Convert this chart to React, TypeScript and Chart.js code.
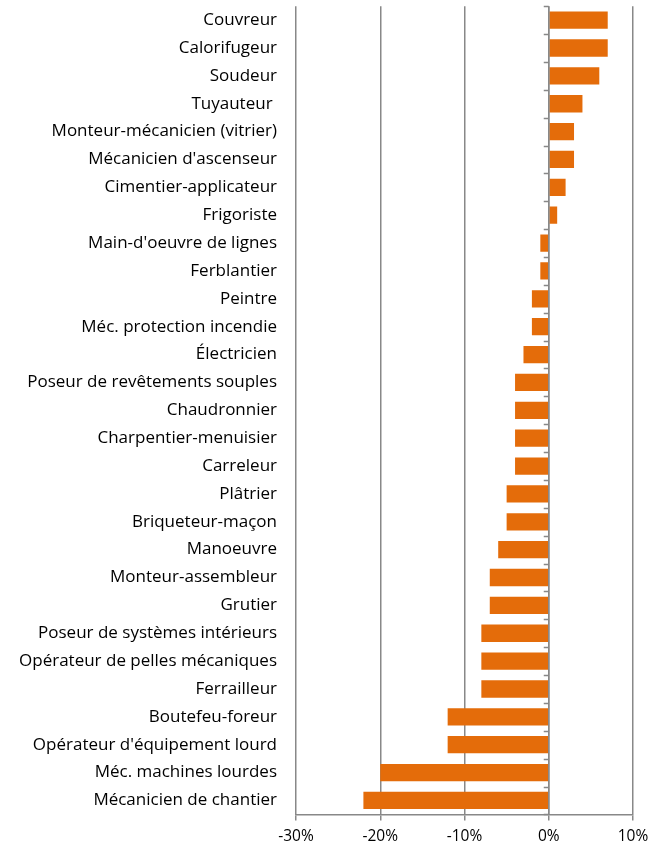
import React, { useEffect, useRef } from "react";
import { Chart, registerables } from "chart.js";

Chart.register(...registerables);

const categories = [
  "Couvreur",
  "Calorifugeur",
  "Soudeur",
  "Tuyauteur ",
  "Monteur-mécanicien (vitrier)",
  "Mécanicien d'ascenseur",
  "Cimentier-applicateur",
  "Frigoriste",
  "Main-d'oeuvre de lignes",
  "Ferblantier",
  "Peintre",
  "Méc. protection incendie",
  "Électricien",
  "Poseur de revêtements souples",
  "Chaudronnier",
  "Charpentier-menuisier",
  "Carreleur",
  "Plâtrier",
  "Briqueteur-maçon",
  "Manoeuvre",
  "Monteur-assembleur",
  "Grutier",
  "Poseur de systèmes intérieurs",
  "Opérateur de pelles mécaniques",
  "Ferrailleur",
  "Boutefeu-foreur",
  "Opérateur d'équipement lourd",
  "Méc. machines lourdes",
  "Mécanicien de chantier",
];

const values = [
  7, 7, 6, 4, 3, 3, 2, 1, -1, -1, -2, -2, -3, -4, -4, -4, -4, -5, -5, -6, -7, -7,
  -8, -8, -8, -12, -12, -20, -22,
];

const xMin = -30;
const xMax = 10;
const xStep = 10;

const GRID = "#888888";
const FONT = "'Open Sans', sans-serif";

const zeroTicks = {
  id: "zeroTicks",
  afterDatasetsDraw(chart: any) {
    const xs = chart.scales.x;
    const ys = chart.scales.y;
    const ctx = chart.ctx;
    const x0 = xs.getPixelForValue(0);
    ctx.save();
    ctx.strokeStyle = GRID;
    ctx.lineWidth = 1.5;
    ctx.beginPath();
    for (let i = 0; i <= categories.length; i++) {
      const y = Math.round(ys.getPixelForValue(i - 0.5)) + 0.5;
      ctx.moveTo(x0 - 5, y);
      ctx.lineTo(x0, y);
    }
    ctx.moveTo(x0, chart.chartArea.top);
    ctx.lineTo(x0, chart.chartArea.bottom);
    ctx.stroke();
    ctx.restore();
  },
};

export default function App() {
  const ref = useRef<HTMLCanvasElement | null>(null);
  useEffect(() => {
    if (!ref.current) return;
    const chart = new Chart(ref.current, {
      type: "bar",
      data: {
        labels: categories,
        datasets: [
          {
            data: values,
            backgroundColor: "#E46C0A",
            borderWidth: 0,
            categoryPercentage: 1,
            barPercentage: 0.62,
          },
        ],
      },
      options: {
        indexAxis: "y",
        animation: false,
        responsive: false,
        layout: { padding: { top: 5, right: 32, bottom: 0, left: 0 } },
        plugins: {
          legend: { display: false },
          tooltip: { enabled: false },
        },
        scales: {
          x: {
            min: xMin,
            max: xMax,
            ticks: {
              stepSize: xStep,
              callback: (v: any) => v + "%",
              color: "#000",
              font: { family: FONT, size: 15.5 },
              padding: 7,
            },
            grid: {
              color: GRID,
              lineWidth: 1.5,
              tickLength: 6,
              drawTicks: true,
            },
            border: { display: true, color: GRID, width: 1.5 },
          },
          y: {
            ticks: {
              color: "#000",
              font: { family: FONT, size: 17 },
              padding: 19,
              autoSkip: false,
            },
            grid: { display: false, drawTicks: false },
            border: { display: false },
            afterFit: (scale: any) => {
              scale.width = 296;
            },
          },
        },
      },
      plugins: [zeroTicks],
    });
    return () => chart.destroy();
  }, []);
  return (
    <div
      style={{
        position: "absolute",
        left: 0,
        top: 0,
        width: 665,
        height: 849,
        overflow: "hidden",
      }}
    >
      <canvas
        ref={ref}
        width={665}
        height={876}
        style={{ display: "block", position: "absolute", left: 0, top: -23 }}
      />
    </div>
  );
}
